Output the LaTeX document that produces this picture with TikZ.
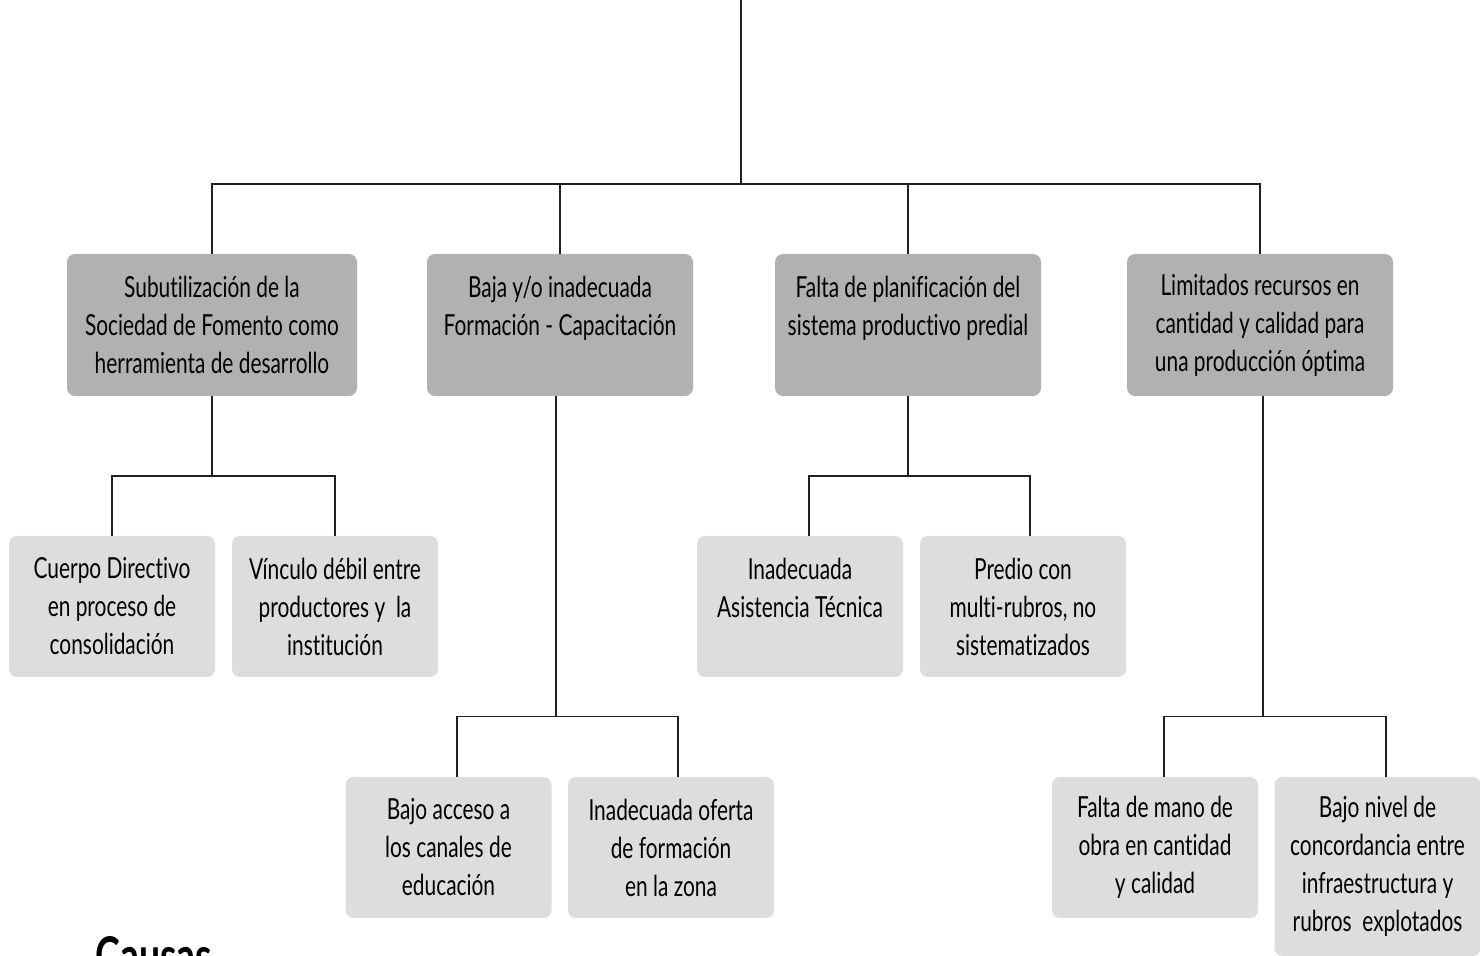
\documentclass[tikz,border=0pt]{standalone}
\usepackage{fontspec}
\setmainfont[FakeStretch=0.72, Ligatures=NoCommon]{Lato}
\usepackage{tikz}
\usetikzlibrary{calc}

\definecolor{boxdark}{RGB}{177,177,179}
\definecolor{boxlight}{RGB}{220,221,223}
\definecolor{linecol}{RGB}{35,31,32}

\tikzset{
  causa/.style={fill=boxdark, rounded corners=4pt, align=center,
    minimum width=133pt, minimum height=71pt, inner sep=0pt,
    font=\fontsize{14.5}{19}\selectfont},
  subcausa/.style={fill=boxlight, rounded corners=4pt, align=center,
    minimum width=103pt, minimum height=70.5pt, inner sep=0pt,
    font=\fontsize{14.5}{19}\selectfont},
  enlace/.style={draw=linecol, line width=0.9pt}
}

\begin{document}
\begin{tikzpicture}[x=0.5pt,y=-0.5pt]
\useasboundingbox (0,0) rectangle (1480,956);

% causas principales
\node[causa, minimum width=145pt] (A) at (212,325) {Subutilización de la\\Sociedad de Fomento como\\herramienta de desarrollo};
\node[causa] (B) at (560,325) {Baja y/o inadecuada\\Formación - Capacitación\\\phantom{X}};
\node[causa] (C) at (908,325) {Falta de planificación del\\sistema productivo predial\\\phantom{X}};
\node[causa] (D) at (1260,325) {Limitados recursos en\\cantidad y calidad para\\una producción óptima};

% subcausas
\node[subcausa] (A1) at (112,606.5) {Cuerpo Directivo\\en proceso de\\consolidación};
\node[subcausa] (A2) at (335,606.5) {Vínculo débil entre\\productores y \ la\\institución};
\node[subcausa] (B1) at (448.5,847.5) {Bajo acceso a\\los canales de\\educación};
\node[subcausa] (B2) at (671,847.5) {Inadecuada oferta\\de formación\\en la zona};
\node[subcausa] (C1) at (800,606.5) {Inadecuada\\Asistencia Técnica\\\phantom{X}};
\node[subcausa] (C2) at (1023,606.5) {Predio con\\multi-rubros, no\\sistematizados};
\node[subcausa] (D1) at (1155,847.5) {Falta de mano de\\obra en cantidad\\y calidad};
\node[subcausa, minimum height=89.5pt] (D2) at (1377.5,866.5) {Bajo nivel de\\concordancia entre\\infraestructura y\\rubros \ explotados};

\node[anchor=base west, inner sep=0pt, font=\fontsize{26}{30}\selectfont\bfseries] (titulo) at (95,975) {Causas};

% conectores
\coordinate (arriba) at (741,0);
\coordinate (bus) at (741,184);
\coordinate (busA) at (212,476);
\coordinate (busB) at (556,716.5);
\coordinate (busC) at (908,476);
\coordinate (busD) at (1263,716.5);

\draw[enlace] (arriba) -- (bus);
\draw[enlace] (A.north) |- (bus) -| (D.north);
\draw[enlace] (B.north) -- (B.north |- bus);
\draw[enlace] (C.north) -- (C.north |- bus);

\draw[enlace] (A.south) -- (busA);
\draw[enlace] (A1.north) |- (busA) -| (A2.north);
\draw[enlace] ([xshift=-2pt]B.south) -- (busB);
\draw[enlace] ([xshift=4.25pt]B1.north) |- (busB) -| ([xshift=3.5pt]B2.north);
\draw[enlace] (C.south) -- (busC);
\draw[enlace] ([xshift=4.5pt]C1.north) |- (busC) -| ([xshift=3.5pt]C2.north);
\draw[enlace] ([xshift=1.5pt]D.south) -- (busD);
\draw[enlace] ([xshift=4.5pt]D1.north) |- (busD) -| ([xshift=4.25pt]D2.north);

\end{tikzpicture}
\end{document}
